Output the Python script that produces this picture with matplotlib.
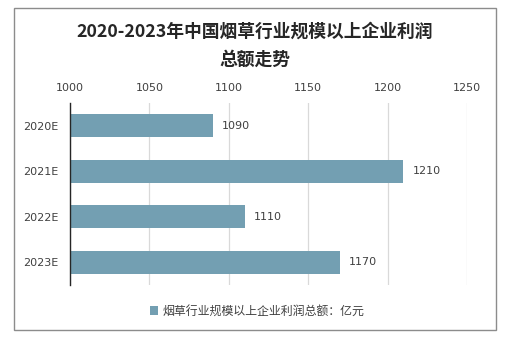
import matplotlib.pyplot as plt
from matplotlib.patches import Rectangle

plt.rcParams['font.family'] = ['Noto Sans CJK SC', 'DejaVu Sans']

# profit totals, 100 million yuan
years = ['2020E', '2021E', '2022E', '2023E']
profits = [1090, 1210, 1110, 1170]
x_ticks = [1000, 1050, 1100, 1150, 1200, 1250]

title = '2020-2023年中国烟草行业规模以上企业利润\n总额走势'
series_name = '烟草行业规模以上企业利润总额：亿元'

bar_color = '#739FB2'
text_color = '#404040'

fig = plt.figure(figsize=(5.24, 3.41), dpi=100)
ax = fig.add_axes([70 / 524, 1 - 285 / 341, 397 / 524, 182 / 341])

pos = list(range(len(years)))
base = x_ticks[0]
bars = ax.barh(pos, [p - base for p in profits], left=base, height=0.5,
               color=bar_color, label=series_name, zorder=3)

for y, v in zip(pos, profits):
    ax.annotate(str(v), xy=(v, y), xytext=(6.5, 0), textcoords='offset points',
                va='center', ha='left', fontsize=8, color=text_color,
                family=['DejaVu Sans'])

ax.set_xlim(x_ticks[0], x_ticks[-1])
ax.set_ylim(len(years) - 0.5, -0.5)
ax.set_yticks(pos)
ax.set_yticklabels(years, fontsize=8, color=text_color, family=['DejaVu Sans'])
ax.set_xticks(x_ticks)
ax.set_xticklabels([str(t) for t in x_ticks], fontsize=8, color=text_color,
                   family=['DejaVu Sans'])
ax.xaxis.tick_top()
ax.tick_params(axis='both', length=0)
ax.tick_params(axis='x', pad=7)
ax.tick_params(axis='y', pad=8.5)

ax.grid(axis='x', color='#D9D9D9', linewidth=0.9, zorder=0)
for side in ['top', 'right', 'bottom']:
    ax.spines[side].set_visible(False)
ax.spines['left'].set_color('#262626')
ax.spines['left'].set_linewidth(1.0)
ax.spines['left'].set_zorder(4)

fig.text(255 / 524, 1 - 46 / 341, title, ha='center', va='center',
         fontsize=12.8, fontweight='bold', color='#262626', linespacing=1.7)

fig.legend(handles=[bars], loc='center', bbox_to_anchor=(257 / 524, 1 - 311 / 341),
           frameon=False, fontsize=8.6, handlelength=0.7, handleheight=0.7,
           handletextpad=0.3, labelcolor=text_color)

# chart border
fig.patches.append(Rectangle((14 / 524, 1 - 330 / 341), 482 / 524, 322 / 341,
                             transform=fig.transFigure, fill=False,
                             edgecolor='#8C8C8C', linewidth=1.0))

fig.savefig('out.png', dpi=100)
